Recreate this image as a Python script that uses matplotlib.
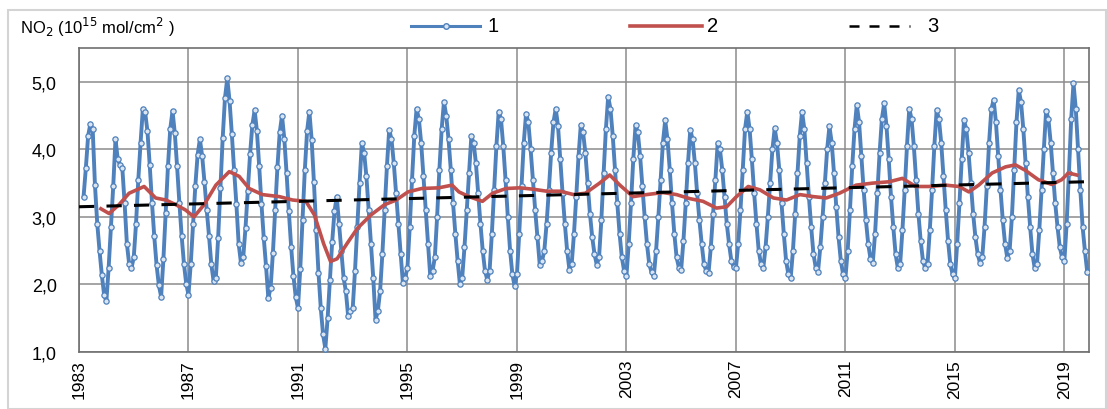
import matplotlib
matplotlib.use('Agg')
import matplotlib.pyplot as plt
from matplotlib.lines import Line2D
from matplotlib.patches import Rectangle
import numpy as np

plt.rcParams['font.family'] = ['Liberation Sans', 'DejaVu Sans']

# series 1: monthly NO2, starting March 1983 (one row per year)
no2_monthly = [
    3.30, 3.72, 4.20, 4.38, 4.30, 3.47, 2.90, 2.50, 2.14, 1.85,            # 1983 (Mar-Dec)
    1.75, 2.25, 2.85, 3.45, 4.15, 3.85, 3.77, 3.72, 3.20, 2.60, 2.30, 2.24,  # 1984
    2.40, 2.90, 3.55, 4.10, 4.60, 4.55, 4.27, 3.77, 3.21, 2.71, 2.29, 1.99,  # 1985
    1.82, 2.37, 3.06, 3.75, 4.30, 4.57, 4.24, 3.75, 3.21, 2.72, 2.31, 2.01,  # 1986
    1.85, 2.31, 2.89, 3.46, 3.92, 4.15, 3.90, 3.52, 3.10, 2.72, 2.30, 2.05,  # 1987
    2.10, 2.69, 3.43, 4.17, 4.76, 5.05, 4.72, 4.23, 3.69, 3.19, 2.60, 2.32,  # 1988
    2.40, 2.84, 3.38, 3.93, 4.36, 4.58, 4.27, 3.75, 3.19, 2.69, 2.27, 1.80,  # 1989
    1.95, 2.46, 3.10, 3.74, 4.25, 4.50, 4.16, 3.65, 3.08, 2.56, 2.13, 1.82,  # 1990
    1.65, 2.23, 2.96, 3.69, 4.27, 4.56, 4.14, 3.51, 2.81, 2.17, 1.65, 1.26,  # 1991
    1.05, 1.50, 2.06, 2.63, 3.08, 3.30, 2.90, 2.50, 2.10, 1.90, 1.53, 1.60,  # 1992
    1.65, 2.20, 2.85, 3.50, 4.09, 3.95, 3.60, 3.10, 2.60, 2.10, 1.48, 1.60,  # 1993
    1.90, 2.45, 3.10, 3.75, 4.29, 4.15, 3.80, 3.35, 2.90, 2.45, 2.02, 2.10,  # 1994
    2.25, 2.85, 3.55, 4.20, 4.60, 4.45, 4.10, 3.60, 3.10, 2.60, 2.12, 2.20,  # 1995
    2.40, 3.00, 3.70, 4.30, 4.70, 4.50, 4.15, 3.70, 3.20, 2.75, 2.35, 2.00,  # 1996
    2.10, 2.55, 3.10, 3.65, 4.19, 4.10, 3.80, 3.35, 2.90, 2.50, 2.20, 2.07,  # 1997
    2.20, 2.75, 3.40, 4.05, 4.56, 4.45, 4.05, 3.55, 3.00, 2.50, 2.15, 1.97,  # 1998
    2.15, 2.75, 3.45, 4.10, 4.53, 4.40, 4.00, 3.55, 3.10, 2.70, 2.29, 2.35,  # 1999
    2.50, 2.90, 3.40, 3.95, 4.40, 4.60, 4.35, 3.85, 3.35, 2.90, 2.50, 2.22,  # 2000
    2.30, 2.75, 3.30, 3.90, 4.36, 4.25, 3.95, 3.50, 3.05, 2.70, 2.45, 2.29,  # 2001
    2.40, 2.95, 3.65, 4.30, 4.78, 4.60, 4.20, 3.70, 3.20, 2.75, 2.40, 2.20,  # 2002
    2.12, 2.60, 3.20, 3.85, 4.36, 4.25, 3.90, 3.45, 3.00, 2.60, 2.30, 2.18,  # 2003
    2.12, 2.50, 3.00, 3.55, 4.10, 4.43, 4.15, 3.70, 3.20, 2.75, 2.40, 2.25,  # 2004
    2.22, 2.65, 3.20, 3.80, 4.29, 4.15, 3.80, 3.35, 2.95, 2.60, 2.30, 2.20,  # 2005
    2.17, 2.55, 3.05, 3.55, 4.09, 4.00, 3.70, 3.30, 2.90, 2.60, 2.35, 2.26,  # 2006
    2.24, 2.60, 3.10, 3.70, 4.30, 4.56, 4.30, 3.85, 3.35, 2.90, 2.50, 2.30,  # 2007
    2.24, 2.55, 3.00, 3.50, 4.00, 4.31, 4.10, 3.70, 3.20, 2.75, 2.35, 2.15,  # 2008
    2.09, 2.50, 3.05, 3.65, 4.20, 4.56, 4.30, 3.80, 3.30, 2.85, 2.45, 2.25,  # 2009
    2.19, 2.55, 3.00, 3.50, 4.00, 4.34, 4.10, 3.65, 3.15, 2.70, 2.35, 2.15,  # 2010
    2.09, 2.50, 3.10, 3.75, 4.30, 4.66, 4.40, 3.90, 3.40, 2.95, 2.60, 2.38,  # 2011
    2.32, 2.75, 3.35, 3.95, 4.45, 4.68, 4.35, 3.85, 3.30, 2.85, 2.45, 2.24,  # 2012
    2.30, 2.80, 3.40, 4.05, 4.60, 4.45, 4.05, 3.55, 3.05, 2.65, 2.35, 2.24,  # 2013
    2.30, 2.80, 3.40, 4.05, 4.58, 4.45, 4.10, 3.60, 3.10, 2.65, 2.30, 2.15,  # 2014
    2.09, 2.60, 3.20, 3.85, 4.43, 4.30, 3.95, 3.50, 3.05, 2.70, 2.45, 2.32,  # 2015
    2.40, 2.85, 3.45, 4.10, 4.60, 4.73, 4.40, 3.90, 3.40, 2.95, 2.60, 2.39,  # 2016
    2.50, 3.00, 3.70, 4.40, 4.88, 4.70, 4.30, 3.80, 3.30, 2.85, 2.45, 2.24,  # 2017
    2.30, 2.80, 3.40, 4.00, 4.57, 4.45, 4.10, 3.65, 3.20, 2.85, 2.55, 2.40,  # 2018
    2.34, 2.90, 3.65, 4.45, 4.98, 4.60, 4.00, 3.40, 2.85, 2.50, 2.19,        # 2019 (Jan-Nov)
]
start_year = 1983 + 2 / 12

# series 2: smoothed curve
smooth_year = [1983.8, 1984.1, 1984.46, 1984.83, 1985.38, 1985.8, 1986.17, 1986.54, 1986.9,
               1987.2, 1987.57, 1988.0, 1988.49, 1988.85, 1989.22, 1989.7, 1990.32, 1990.8,
               1991.29, 1991.6, 1991.94, 1992.19, 1992.43, 1992.8, 1993.17, 1993.67, 1994.16,
               1994.59, 1995.02, 1995.52, 1996.14, 1996.63, 1996.88, 1997.25, 1997.74, 1998.11,
               1998.6, 1999.1, 1999.59, 2000.09, 2000.58, 2001.07, 2001.5, 2002.02, 2002.39,
               2002.76, 2003.24, 2003.73, 2004.34, 2004.83, 2005.32, 2005.8, 2006.29, 2006.66,
               2007.02, 2007.45, 2007.88, 2008.37, 2008.85, 2009.34, 2009.83, 2010.3, 2010.78,
               2011.39, 2012.0, 2012.6, 2013.08, 2013.57, 2014.05, 2014.66, 2015.15, 2015.51,
               2015.87, 2016.36, 2016.85, 2017.21, 2017.57, 2018.05, 2018.54, 2018.9, 2019.15,
               2019.45]
smooth_val = [3.12, 3.05, 3.18, 3.35, 3.45, 3.28, 3.25, 3.18, 3.10,
              3.00, 3.18, 3.47, 3.67, 3.60, 3.42, 3.33, 3.30, 3.25,
              3.23, 3.03, 2.60, 2.34, 2.38, 2.61, 2.83, 3.03, 3.18,
              3.25, 3.37, 3.42, 3.43, 3.47, 3.37, 3.30, 3.23, 3.35,
              3.42, 3.43, 3.41, 3.38, 3.38, 3.33, 3.35, 3.50, 3.62,
              3.47, 3.30, 3.33, 3.36, 3.33, 3.27, 3.23, 3.13, 3.15,
              3.30, 3.45, 3.40, 3.28, 3.25, 3.33, 3.30, 3.28, 3.35,
              3.47, 3.50, 3.52, 3.57, 3.45, 3.45, 3.47, 3.45, 3.37,
              3.47, 3.65, 3.74, 3.77, 3.69, 3.55, 3.48, 3.55, 3.65,
              3.62]

# series 3: linear trend (end points)
trend_year = [1983.0, 2019.8]
trend_val = [3.15, 3.52]

year_ticks = list(range(1983, 2020, 4))
y_ticks = [1, 2, 3, 4, 5]

fig = plt.figure(figsize=(11.07, 4.10), dpi=100)
ax = fig.add_axes([79 / 1107, 1 - 353 / 410, (1089 - 79) / 1107, (353 - 49) / 410])

x_monthly = start_year + np.arange(len(no2_monthly)) / 12
blue = '#4f81bd'
ax.plot(x_monthly, no2_monthly, color=blue, lw=2.8, marker='o', ms=3.8,
        mfc='#dbe5f1', mec=blue, mew=0.9, zorder=3)
ax.plot(smooth_year, smooth_val, color='#c0504d', lw=2.6, zorder=4)
ax.plot(trend_year, trend_val, color='black', lw=2.2, ls=(0, (5, 4)), zorder=5)

ax.set_xlim(1983, 2019.9)
ax.set_ylim(1, 5.5)
ax.set_xticks(year_ticks)
ax.set_xticklabels([str(y) for y in year_ticks], rotation=90, fontsize=12.5)
ax.set_yticks(y_ticks)
ax.set_yticklabels([f'{v:.1f}'.replace('.', ',') for v in y_ticks], fontsize=13)
ax.tick_params(axis='y', length=0, pad=16)
ax.tick_params(axis='x', length=0, pad=5)
ax.grid(True, color='#8c8c8c', lw=1.1)
ax.set_axisbelow(True)
for s in ax.spines.values():
    s.set_color('#6f6f6f')
    s.set_linewidth(1.2)

# chart area frame
fig.add_artist(Rectangle((8 / 1107, 0), 1098 / 1107, 1 - 11 / 410, transform=fig.transFigure,
                         fill=False, ec='#d4d4d4', lw=1.5))

# header text and legend
ly = 1 - 27 / 410
fig.text(20 / 1107, ly, r'NO$_2$ (10$^{15}$ mol/cm$^2$ )', fontsize=12, va='center')
fig.add_artist(Line2D([411 / 1107, 480 / 1107], [ly, ly], color=blue, lw=2.2,
                      transform=fig.transFigure))
fig.add_artist(Line2D([446 / 1107], [ly], color=blue, marker='o', ms=4, mfc='#dbe5f1',
                      mec=blue, transform=fig.transFigure))
fig.text(488 / 1107, ly, '1', fontsize=14.5, va='center')
fig.add_artist(Line2D([630 / 1107, 702 / 1107], [ly, ly], color='#c0504d', lw=2.6,
                      transform=fig.transFigure))
fig.text(707 / 1107, ly, '2', fontsize=14.5, va='center')
fig.add_artist(Line2D([849 / 1107, 910 / 1107], [ly, ly], color='black', lw=1.8,
                      ls=(0, (4, 4)), transform=fig.transFigure))
fig.text(927 / 1107, ly, '3', fontsize=14.5, va='center')

fig.savefig('out.png', dpi=100)
